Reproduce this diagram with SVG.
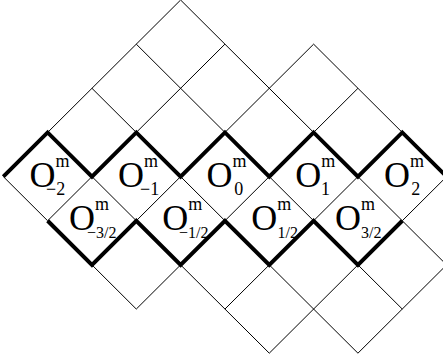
<svg xmlns="http://www.w3.org/2000/svg" width="443" height="360" viewBox="0 0 443 360">
<style>
.thin{fill:none;stroke:#000;stroke-width:1}
.thick{fill:none;stroke:#000;stroke-width:4;stroke-linejoin:miter;stroke-miterlimit:10}
text{font-family:"Liberation Serif","Times New Roman",serif;fill:#000;font-size:36px}
.s{font-size:18px}
.f{font-size:16px}
</style>
<rect width="443" height="360" fill="#fff"/>
<g id="grid">
<path class="thin" d="M180.62,0 L313.61,132.45 M357.94,176.6 L446.6,264.9
M136.29,44.15 L224.95,132.45 M269.28,176.6 L313.61,220.75 M357.94,264.9 L402.27,309.05
M91.96,88.3 L136.29,132.45 M180.62,176.6 L224.95,220.75 M269.28,264.9 L357.94,353.2
M313.61,44.15 L402.27,132.45
M91.96,176.6 L136.29,220.75 M180.62,264.9 L269.28,353.2
M3.3,176.6 L47.63,220.75 M91.96,264.9 L136.29,309.05
M47.63,132.45 L180.62,0
M136.29,132.45 L224.95,44.15 M47.63,220.75 L91.96,176.6
M136.29,220.75 L180.62,176.6 M224.95,132.45 L313.61,44.15
M313.61,132.45 L357.94,88.3 M224.95,220.75 L269.28,176.6 M136.29,309.05 L180.62,264.9
M313.61,220.75 L357.94,176.6 M224.95,309.05 L269.28,264.9
M402.27,220.75 L446.6,176.6 M269.28,353.2 L357.94,264.9
M357.94,353.2 L446.6,264.9"/>
</g>
<g id="connectors">
<path class="thick" d="M3.3,176.6 L47.63,132.45 L91.96,176.6 L136.29,132.45 L180.62,176.6 L224.95,132.45 L269.28,176.6 L313.61,132.45 L357.94,176.6 L402.27,132.45 L446.6,176.6"/>
<path class="thick" d="M47.63,220.75 L91.96,264.9 L136.29,220.75 L180.62,264.9 L224.95,220.75 L269.28,264.9 L313.61,220.75 L357.94,264.9 L402.27,220.75"/>
</g>
<g id="O-m2"><text x="29.4" y="186.5">O<tspan class="s" x="55.4" y="166.5">m</tspan><tspan class="s" x="46" y="194.5">−2</tspan></text></g>
<g id="O-m1"><text x="118" y="186.5">O<tspan class="s" x="144" y="166.5">m</tspan><tspan class="s" x="140" y="194.5">−1</tspan></text></g>
<g id="O-0"><text x="206.6" y="186.5">O<tspan class="s" x="232.6" y="166.5">m</tspan><tspan class="s" x="234.3" y="194.5">0</tspan></text></g>
<g id="O-1"><text x="295.3" y="186.5">O<tspan class="s" x="321.3" y="166.5">m</tspan><tspan class="s" x="321" y="194.5">1</tspan></text></g>
<g id="O-2"><text x="384" y="186.5">O<tspan class="s" x="410" y="166.5">m</tspan><tspan class="s" x="411.2" y="194.5">2</tspan></text></g>
<g id="O-m3h"><text x="69" y="230">O<tspan class="s" x="95" y="210">m</tspan><tspan class="f" x="87" y="238">−3/2</tspan></text></g>
<g id="O-m1h"><text x="162.2" y="230">O<tspan class="s" x="188.2" y="210">m</tspan><tspan class="f" x="179" y="238">−1/2</tspan></text></g>
<g id="O-1h"><text x="251.2" y="230">O<tspan class="s" x="277.2" y="210">m</tspan><tspan class="f" x="277.5" y="238">1/2</tspan></text></g>
<g id="O-3h"><text x="335" y="230">O<tspan class="s" x="361" y="210">m</tspan><tspan class="f" x="361" y="238">3/2</tspan></text></g>
</svg>
